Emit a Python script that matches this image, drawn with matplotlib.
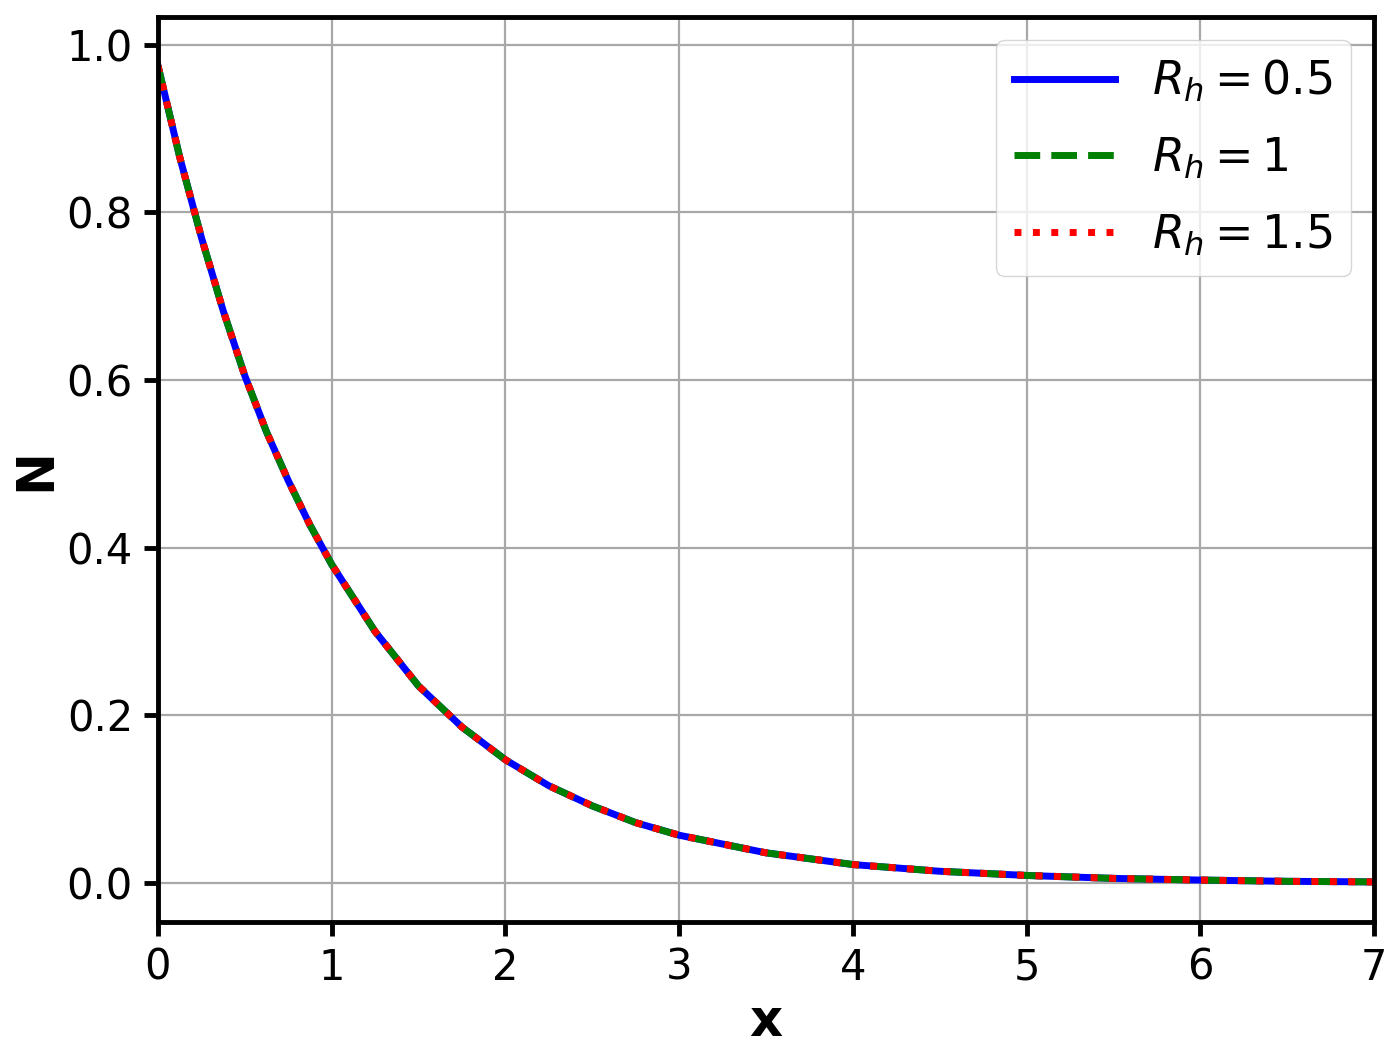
import numpy as np
import matplotlib
matplotlib.use("Agg")
import matplotlib.pyplot as plt

# -------------------------------
# Data
# -------------------------------
x_vals = [0.0, 0.125, 0.25, 0.375, 0.5, 0.625, 0.75, 0.875, 1.0, 1.25, 1.5, 1.75,
          2.0, 2.25, 2.5, 2.75, 3.0, 3.5, 4.0, 4.5, 5.0, 5.5, 6.0, 6.5, 7.0]

n_rh05 = [0.975, 0.866, 0.77, 0.683, 0.605, 0.538, 0.48, 0.427, 0.38, 0.30, 0.235,
          0.186, 0.147, 0.116, 0.092, 0.072, 0.057, 0.036, 0.022, 0.014, 0.009,
          0.0055, 0.0035, 0.002, 0.0013]
n_rh1 = [0.975, 0.866, 0.77, 0.683, 0.605, 0.538, 0.48, 0.427, 0.38, 0.30, 0.235,
         0.186, 0.147, 0.116, 0.092, 0.072, 0.057, 0.036, 0.022, 0.014, 0.009,
         0.0055, 0.0035, 0.002, 0.0013]
n_rh15 = [0.975, 0.866, 0.77, 0.683, 0.605, 0.538, 0.48, 0.427, 0.38, 0.30, 0.235,
          0.186, 0.147, 0.116, 0.092, 0.072, 0.057, 0.036, 0.022, 0.014, 0.009,
          0.0055, 0.0035, 0.002, 0.0013]

labels = [r"$R_h = 0.5$", r"$R_h = 1$", r"$R_h = 1.5$"]

# -------------------------------
# Plot
# -------------------------------
fig = plt.figure(figsize=(13.87, 10.52), dpi=100)
ax = fig.add_axes([0.1139, 0.1236, 0.8767, 0.8602])

ax.plot(x_vals, n_rh05, color="blue", linestyle="-", linewidth=5, label=labels[0])
ax.plot(x_vals, n_rh1, color="green", linestyle="--", linewidth=5, label=labels[1])
ax.plot(x_vals, n_rh15, color="red", linestyle=":", linewidth=5, label=labels[2])

ax.set_xlim(0, 7)
ax.set_ylim(-0.0465, 1.033)
ax.set_xticks(range(0, 8))
ax.set_yticks([0.0, 0.2, 0.4, 0.6, 0.8, 1.0])

ax.set_xlabel("x", fontsize=37, fontweight="bold", labelpad=6)
ax.set_ylabel("N", fontsize=37, fontweight="bold", labelpad=4)

ax.tick_params(axis="both", labelsize=30, width=3.5, length=10, pad=8)
for spine in ax.spines.values():
    spine.set_linewidth(3.5)

ax.grid(True, color="#a8a8a8", linewidth=1.6)

ax.legend(loc="upper right", fontsize=33, handlelength=2.2, labelspacing=0.68,
          borderaxespad=0.5, framealpha=0.8)

fig.savefig("out.png", dpi=100)
